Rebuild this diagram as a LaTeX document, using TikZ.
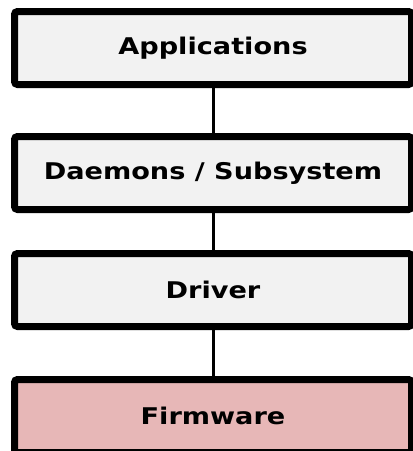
\documentclass[tikz,border=0pt]{standalone}
\usepackage{fontspec}
\setmainfont{DejaVu Sans}[FakeStretch=1.18]
\usepackage{tikz}
\usetikzlibrary{positioning}
\definecolor{layergray}{RGB}{242,242,242}
\definecolor{layerpink}{RGB}{231,183,183}

\begin{document}
\begin{tikzpicture}[
                font=\fontsize{23}{27}\selectfont\bfseries,
                layer/.style={draw, rounded corners=3pt, line width=7pt, fill=layergray,
                              minimum width=397pt, minimum height=73pt, inner sep=0pt, align=center},
                link/.style={line width=3pt},
            ]
                \useasboundingbox (0,0) rectangle (413pt,-451pt);

                % Layers
                \node[layer] (apps) at (213pt,-48pt) {Applications};
                \node[layer, below=45pt of apps] (daemons) {Daemons / Subsystem};
                \node[layer, below=37pt of daemons] (driver) {Driver};
                \node[layer, fill=layerpink, below=46pt of driver] (firmware) {Firmware};

                % Links between layers
                \draw[link] (apps.south) -- (daemons.north);
                \draw[link] (daemons.south) -- (driver.north);
                \draw[link] (driver.south) -- (firmware.north);
            \end{tikzpicture}
\end{document}
